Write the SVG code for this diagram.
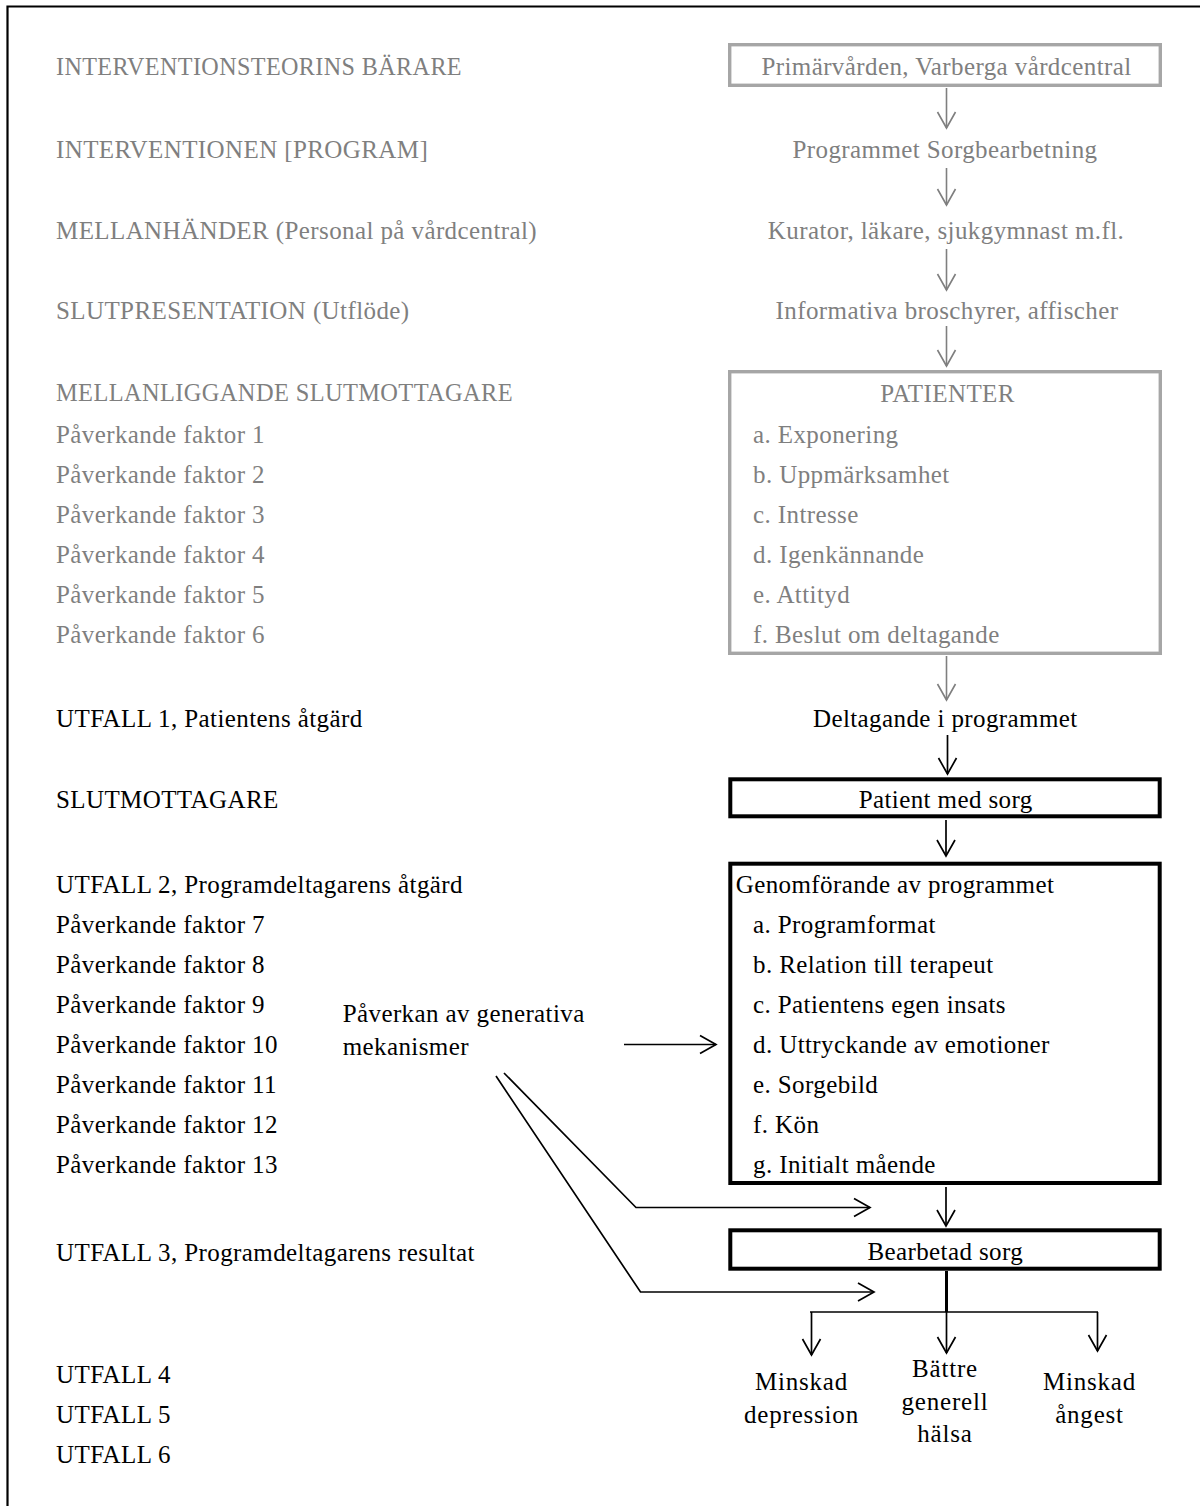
<svg xmlns="http://www.w3.org/2000/svg" width="1200" height="1506" viewBox="0 0 1200 1506">
<defs>
<style>
text{font-family:"Liberation Serif","Times New Roman",serif;font-size:25px;letter-spacing:0.4px}
.g{fill:#7f7f7f}
.k{fill:#000}
.c{text-anchor:middle}
.w{letter-spacing:0.8px}
.gbox{fill:none;stroke:#a6a6a6;stroke-width:3.4}
.kbox{fill:none;stroke:#000;stroke-width:4}
.ga{fill:none;stroke:#7f7f7f;stroke-width:1.6;marker-end:url(#ag)}
.ka{fill:none;stroke:#000;stroke-width:1.7;marker-end:url(#ak)}
.kl{fill:none;stroke:#000;stroke-width:1.7}
</style>
<marker id="ag" viewBox="-18 -11 20 22" refX="0" refY="0" markerWidth="20" markerHeight="22" markerUnits="userSpaceOnUse" orient="auto"><path d="M-16,-9 L0,0 L-16,9" fill="none" stroke="#7f7f7f" stroke-width="1.6"/></marker>
<marker id="ak" viewBox="-18 -11 20 22" refX="0" refY="0" markerWidth="20" markerHeight="22" markerUnits="userSpaceOnUse" orient="auto"><path d="M-16,-9 L0,0 L-16,9" fill="none" stroke="#000" stroke-width="1.7"/></marker>
</defs>
<rect width="1200" height="1506" fill="#fff"/>
<g id="frame" fill="none" stroke="#000" stroke-width="2.2">
<path d="M7.5,1506 V6.5 H1200"/>
</g>
<g id="left-column">
<text id="l-barare" class="g" x="56" y="75" textLength="406" lengthAdjust="spacingAndGlyphs">INTERVENTIONSTEORINS BÄRARE</text>
<text id="l-interventionen" class="g" x="56" y="158">INTERVENTIONEN [PROGRAM]</text>
<text id="l-mellanhander" class="g" x="56" y="239">MELLANHÄNDER (Personal på vårdcentral)</text>
<text id="l-slutpresentation" class="g" x="56" y="319">SLUTPRESENTATION (Utflöde)</text>
<text id="l-mellanliggande" class="g" x="56" y="401" textLength="457" lengthAdjust="spacingAndGlyphs">MELLANLIGGANDE SLUTMOTTAGARE</text>
<text class="g" x="56" y="443">Påverkande faktor 1</text>
<text class="g" x="56" y="483">Påverkande faktor 2</text>
<text class="g" x="56" y="523">Påverkande faktor 3</text>
<text class="g" x="56" y="563">Påverkande faktor 4</text>
<text class="g" x="56" y="603">Påverkande faktor 5</text>
<text class="g" x="56" y="643">Påverkande faktor 6</text>
<text id="l-utfall1" class="k" x="56" y="727">UTFALL 1, Patientens åtgärd</text>
<text id="l-slutmottagare" class="k" x="56" y="808">SLUTMOTTAGARE</text>
<text id="l-utfall2" class="k" x="56" y="893">UTFALL 2, Programdeltagarens åtgärd</text>
<text class="k" x="56" y="933">Påverkande faktor 7</text>
<text class="k" x="56" y="973">Påverkande faktor 8</text>
<text class="k" x="56" y="1013">Påverkande faktor 9</text>
<text class="k" x="56" y="1053">Påverkande faktor 10</text>
<text class="k" x="56" y="1093">Påverkande faktor 11</text>
<text class="k" x="56" y="1133">Påverkande faktor 12</text>
<text class="k" x="56" y="1173">Påverkande faktor 13</text>
<text id="l-utfall3" class="k" x="56" y="1261">UTFALL 3, Programdeltagarens resultat</text>
<text id="l-utfall4" class="k" x="56" y="1383">UTFALL 4</text>
<text id="l-utfall5" class="k" x="56" y="1423">UTFALL 5</text>
<text id="l-utfall6" class="k" x="56" y="1463">UTFALL 6</text>
</g>
<g id="n-primarvarden">
<rect class="gbox" x="729.7" y="44.7" width="430.6" height="40.6"/>
<text class="g c" x="946.5" y="75">Primärvården, Varberga vårdcentral</text>
</g>
<g id="n-programmet">
<text class="g c" x="945" y="158">Programmet Sorgbearbetning</text>
</g>
<g id="n-kurator">
<text class="g c" x="946" y="238.5">Kurator, läkare, sjukgymnast m.fl.</text>
</g>
<g id="n-informativa">
<text class="g c" x="947" y="319">Informativa broschyrer, affischer</text>
</g>
<g id="n-patienter">
<rect class="gbox" x="729.7" y="371.7" width="430.6" height="281.6"/>
<text class="g c" x="947.5" y="401.5">PATIENTER</text>
<text class="g" x="753" y="443">a. Exponering</text>
<text class="g" x="753" y="483">b. Uppmärksamhet</text>
<text class="g" x="753" y="523">c. Intresse</text>
<text class="g" x="753" y="563">d. Igenkännande</text>
<text class="g" x="753" y="603">e. Attityd</text>
<text class="g" x="753" y="643">f. Beslut om deltagande</text>
</g>
<g id="n-deltagande">
<text class="k c" x="945.3" y="727">Deltagande i programmet</text>
</g>
<g id="n-patient-med-sorg">
<rect class="kbox" x="730.3" y="779.3" width="429.4" height="37"/>
<text class="k c" x="945.7" y="808.3">Patient med sorg</text>
</g>
<g id="n-genomforande">
<rect class="kbox" x="730.3" y="863.7" width="429.4" height="319.3"/>
<text class="k" x="735.7" y="892.7">Genomförande av programmet</text>
<text class="k" x="753" y="932.7">a. Programformat</text>
<text class="k" x="753" y="972.7">b. Relation till terapeut</text>
<text class="k" x="753" y="1012.7">c. Patientens egen insats</text>
<text class="k" x="753" y="1052.7">d. Uttryckande av emotioner</text>
<text class="k" x="753" y="1092.7">e. Sorgebild</text>
<text class="k" x="753" y="1132.7">f. Kön</text>
<text class="k" x="753" y="1172.7">g. Initialt mående</text>
</g>
<g id="n-generativa">
<text class="k" x="342.7" y="1021.7">Påverkan av generativa</text>
<text class="k" x="342.7" y="1055">mekanismer</text>
</g>
<g id="n-bearbetad">
<rect class="kbox" x="730.3" y="1230.3" width="429.4" height="38.4"/>
<text class="k c" x="945.3" y="1260">Bearbetad sorg</text>
</g>
<g id="n-depression">
<text class="k c w" x="801.5" y="1390">Minskad</text>
<text class="k c w" x="801.5" y="1423">depression</text>
</g>
<g id="n-halsa">
<text class="k c w" x="945" y="1377">Bättre</text>
<text class="k c w" x="945" y="1410">generell</text>
<text class="k c w" x="945" y="1442">hälsa</text>
</g>
<g id="n-angest">
<text class="k c w" x="1089.5" y="1390">Minskad</text>
<text class="k c w" x="1089.5" y="1423">ångest</text>
</g>
<g id="connectors">
<path class="ga" d="M946.5,88 V128"/>
<path class="ga" d="M946.5,168 V205"/>
<path class="ga" d="M946.5,249 V290"/>
<path class="ga" d="M946.5,326 V366"/>
<path class="ga" d="M946.5,656 V700"/>
<path class="ka" d="M947.5,735 V774"/>
<path class="ka" d="M946,820 V856"/>
<path class="ka" d="M624,1044.5 H716"/>
<path class="ka" d="M504,1073 L636,1207.5 H870"/>
<path class="ka" d="M496,1076 L640.5,1292 H874"/>
<path class="ka" d="M946,1187 V1226"/>
<path fill="none" stroke="#000" stroke-width="3" d="M946.5,1271 V1312"/>
<path class="kl" stroke-width="2" d="M810,1312 H1098"/>
<path class="ka" d="M811.5,1312 V1355"/>
<path class="ka" d="M946.5,1312 V1353"/>
<path class="ka" d="M1097.5,1312 V1351"/>
</g>
</svg>
